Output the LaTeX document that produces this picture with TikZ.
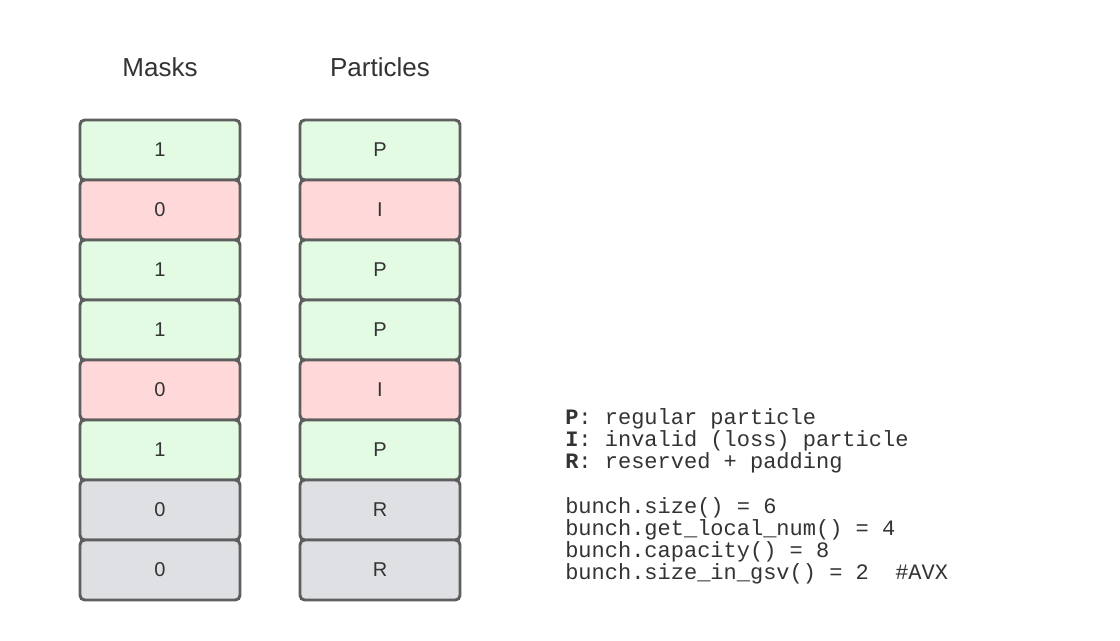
\documentclass[tikz,border=0pt]{standalone}
\usepackage{fontspec}
\setmainfont{Liberation Sans}
\newfontfamily\codefont{Liberation Mono}
\definecolor{gfill}{HTML}{E3FAE3}
\definecolor{rfill}{HTML}{FFD9D9}
\definecolor{xfill}{HTML}{DEE0E3}
\definecolor{edge}{HTML}{5E5E5E}
\definecolor{txt}{HTML}{333333}
\begin{document}
\begin{tikzpicture}[x=0.75pt,y=-0.75pt,
  cell/.style={draw=edge,line width=2.2pt,rounded corners=3.5pt,minimum width=120pt,minimum height=45pt,inner sep=0pt,text=txt,font=\fontsize{15}{18}\selectfont},
  good/.style={cell,fill=gfill},
  bad/.style={cell,fill=rfill},
  res/.style={cell,fill=xfill},
  title/.style={text=txt,font=\fontsize{19.5}{23}\selectfont},
  code/.style={text=txt,font=\codefont\fontsize{16.5}{16.5}\selectfont,align=left,anchor=north west,inner sep=0pt}]
\useasboundingbox[fill=white] (0,0) rectangle (1120,640);
\node[title] (tm) at (160,67) {Masks};
\node[title] (tp) at (380,67) {Particles};
\node[good] (m1) at (160,150) {1};
\node[bad]  (m2) at (160,210) {0};
\node[good] (m3) at (160,270) {1};
\node[good] (m4) at (160,330) {1};
\node[bad]  (m5) at (160,390) {0};
\node[good] (m6) at (160,450) {1};
\node[res]  (m7) at (160,510) {0};
\node[res]  (m8) at (160,570) {0};
\node[good] (p1) at (380,150) {P};
\node[bad]  (p2) at (380,210) {I};
\node[good] (p3) at (380,270) {P};
\node[good] (p4) at (380,330) {P};
\node[bad]  (p5) at (380,390) {I};
\node[good] (p6) at (380,450) {P};
\node[res]  (p7) at (380,510) {R};
\node[res]  (p8) at (380,570) {R};
\node[code] (legend) at (565,408) {\textbf{P}: regular particle\\\textbf{I}: invalid (loss) particle\\\textbf{R}: reserved + padding};
\node[code] (api) at (565,497) {bunch.size() = 6\\bunch.get\_local\_num() = 4\\bunch.capacity() = 8\\bunch.size\_in\_gsv() = 2\ \ \#AVX};
\end{tikzpicture}
\end{document}
